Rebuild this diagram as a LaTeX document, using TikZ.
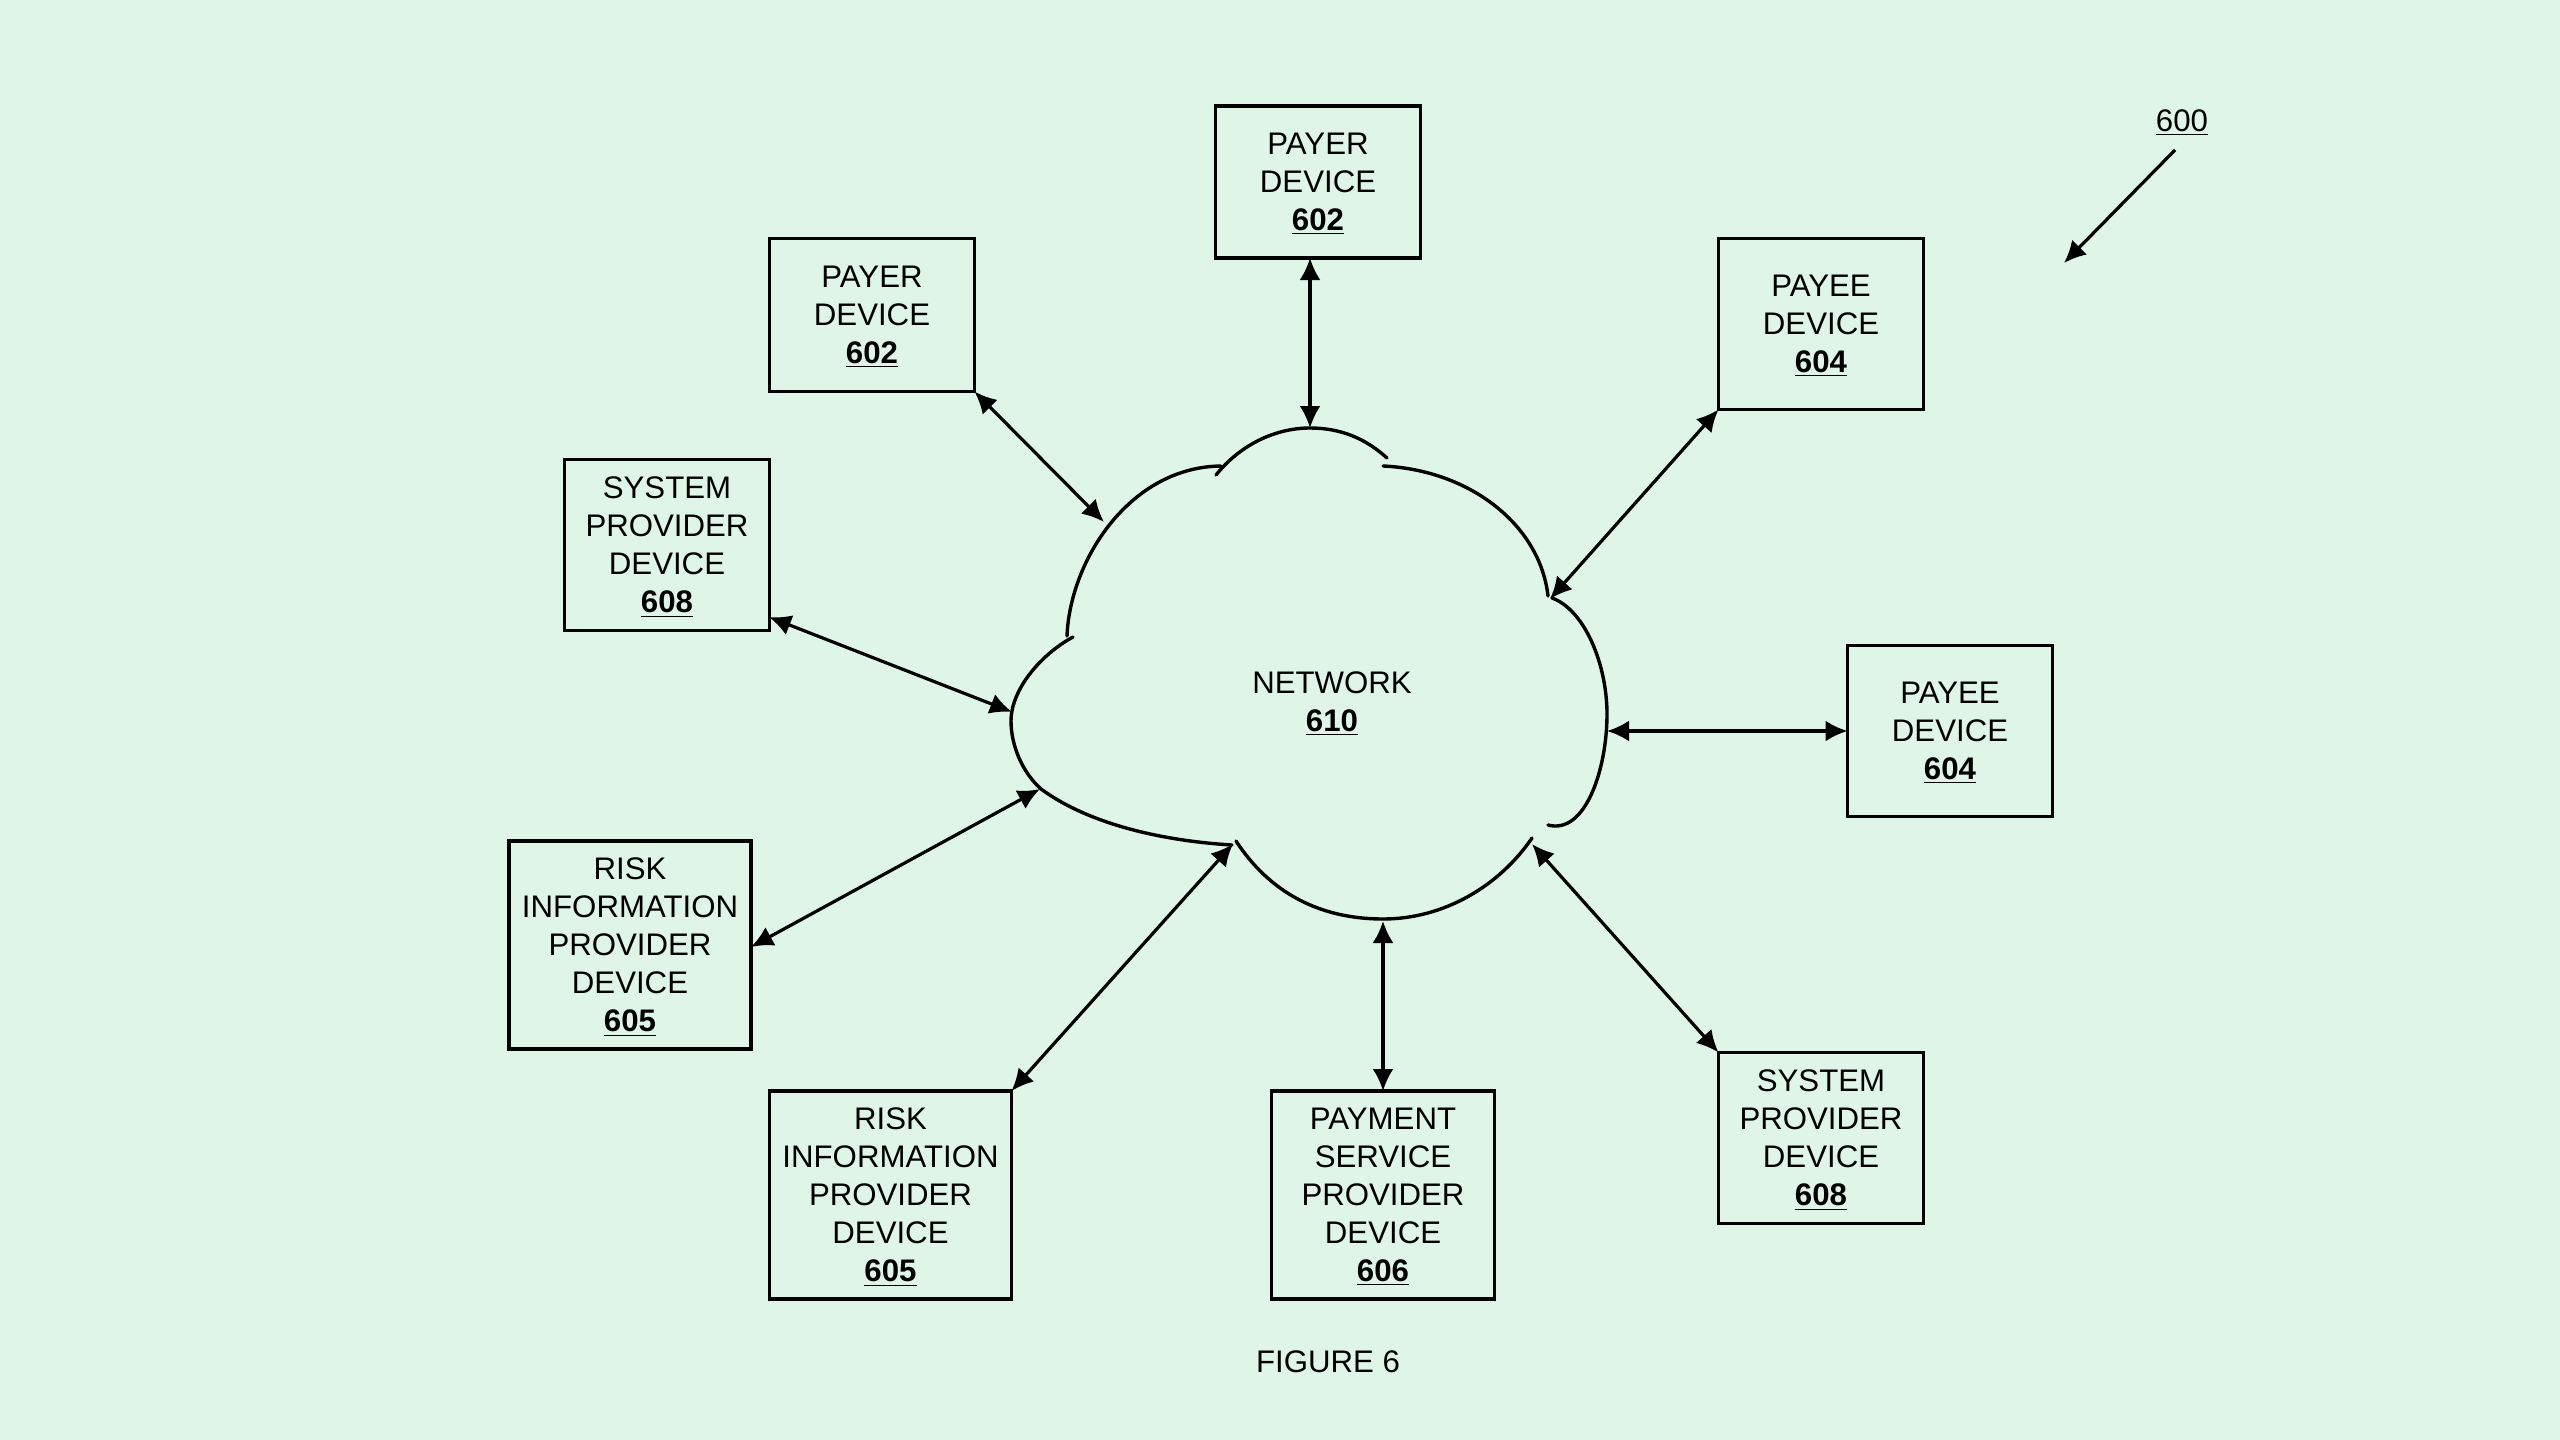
\documentclass[tikz,border=0pt]{standalone}
\usepackage{fontspec}
\usetikzlibrary{arrows.meta}
\setmainfont{Liberation Sans}
\definecolor{paleback}{HTML}{DFF5E7}

\begin{document}
\begin{tikzpicture}[x=0.5pt, y=-0.5pt,
        device/.style = {draw, line width=1.6pt, outer sep=0pt, inner sep=0pt, align=center, minimum width=102.5pt, font=\fontsize{15.6}{19}\selectfont, text depth=-3pt},
        plain/.style = {inner sep=0pt, align=center, font=\fontsize{15.6}{19}\selectfont},
        link/.style = {line width=1.6pt, {Latex[length=11pt,width=10.5pt]}-{Latex[length=11pt,width=10.5pt]}},
        lobe/.style = {line width=1.7pt, line cap=round}]
        \fill[paleback] (0, 0) rectangle (2560, 1440);
        \useasboundingbox (0, 0) rectangle (2560, 1440);

        % devices round the cloud
        \node[device, minimum height=76pt] (payerTop) at (1318, 182) {PAYER\\DEVICE\\\underline{\textbf{602}}};
        \node[device, minimum height=76.5pt] (payerLeft) at (872, 315) {PAYER\\DEVICE\\\underline{\textbf{602}}};
        \node[device, minimum height=85.5pt] (payeeTop) at (1821, 324) {PAYEE\\DEVICE\\\underline{\textbf{604}}};
        \node[device, minimum height=85.5pt] (payeeRight) at (1950, 731) {PAYEE\\DEVICE\\\underline{\textbf{604}}};
        \node[device, minimum height=85.5pt] (systemLeft) at (667, 545) {SYSTEM\\PROVIDER\\DEVICE\\\underline{\textbf{608}}};
        \node[device, minimum height=85.5pt] (systemRight) at (1821, 1138) {SYSTEM\\PROVIDER\\DEVICE\\\underline{\textbf{608}}};
        \node[device, minimum width=121pt, minimum height=104pt] (riskLeft) at (630, 945) {RISK\\INFORMATION\\PROVIDER\\DEVICE\\\underline{\textbf{605}}};
        \node[device, minimum width=121pt, minimum height=104pt] (riskBottom) at (890.5, 1195) {RISK\\INFORMATION\\PROVIDER\\DEVICE\\\underline{\textbf{605}}};
        \node[device, minimum width=111.5pt, minimum height=104pt] (payment) at (1383, 1195) {PAYMENT\\SERVICE\\PROVIDER\\DEVICE\\\underline{\textbf{606}}};

        % cloud, one open arc per lobe
        \draw[lobe] (1216, 475) .. controls (1240, 445) and (1275, 428) .. (1310, 428) .. controls (1340, 428) and (1365, 438) .. (1387, 458);
        \draw[lobe] (1383, 466) .. controls (1470, 470) and (1540, 525) .. (1548, 596);
        \draw[lobe] (1552, 598) .. controls (1585, 610) and (1607, 665) .. (1607, 714) .. controls (1607, 770) and (1585, 835) .. (1548, 825);
        \draw[lobe] (1532, 838) .. controls (1500, 885) and (1445, 919) .. (1383, 919) .. controls (1320, 919) and (1270, 893) .. (1236, 841);
        \draw[lobe] (1232, 845) .. controls (1165, 841) and (1090, 825) .. (1041, 789) .. controls (1022, 772) and (1011, 745) .. (1011, 721) .. controls (1011, 690) and (1040, 655) .. (1073, 637);
        \draw[lobe] (1067, 636) .. controls (1070, 560) and (1130, 467) .. (1221, 466);
        \node[plain] (network) at (1332, 704) {NETWORK\\\underline{\textbf{610}}};

        % where the arrows meet the cloud
        \coordinate (netTop) at (1310, 428);
        \coordinate (netUpperLeft) at (1104, 522);
        \coordinate (netUpperRight) at (1550, 599);
        \coordinate (netRight) at (1607, 731);
        \coordinate (netLeft) at (1012, 712);
        \coordinate (netLowerLeft) at (1040, 789);
        \coordinate (netBottomLeft) at (1233, 844);
        \coordinate (netBottom) at (1383, 921);
        \coordinate (netLowerRight) at (1532, 844);
        \coordinate (systemLeftEnd) at (769, 617);
        \coordinate (riskLeftEnd) at (751, 947);

        \draw[link] (payerTop.south -| netTop) -- (netTop);
        \draw[link] (payerLeft.south east) -- (netUpperLeft);
        \draw[link] (payeeTop.south west) -- (netUpperRight);
        \draw[link] (payeeRight.west) -- (netRight);
        \draw[link] (systemLeftEnd) -- (netLeft);
        \draw[link] (riskLeftEnd) -- (netLowerLeft);
        \draw[link] (riskBottom.north east) -- (netBottomLeft);
        \draw[link] (payment.north -| netBottom) -- (netBottom);
        \draw[link] (systemRight.north west) -- (netLowerRight);

        % reference numeral and caption
        \node[plain] (numeral) at (2182, 123) {\underline{600}};
        \coordinate (numeralTail) at (2175, 150);
        \coordinate (numeralHead) at (2064, 263);
        \draw[line width=1.6pt, -{Latex[length=11pt,width=10.5pt]}] (numeralTail) -- (numeralHead);
        \node[plain] (caption) at (1328, 1362) {FIGURE 6};
    \end{tikzpicture}
\end{document}
